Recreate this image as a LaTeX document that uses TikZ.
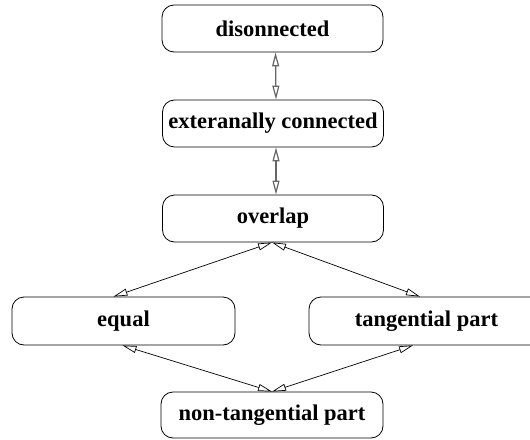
\documentclass[tikz,border=0pt]{standalone}
\usepackage{fontspec}
\setmainfont{Liberation Serif}
\usetikzlibrary{arrows.meta}
\begin{document}
\begin{tikzpicture}[x=1pt,y=-1pt,
  state/.style={draw, rounded corners=12pt, minimum width=221pt, minimum height=47pt,
    inner sep=0pt, font=\fontsize{22.5}{24}\selectfont\bfseries, line width=0.8pt},
  rel/.style={{Triangle[open,length=14pt,width=7pt]}-{Triangle[open,length=14pt,width=7pt]}, line width=0.7pt},
  vrel/.style={rel, draw=black!60, line width=1.2pt}]
\clip (0,0) rectangle (530,439);
\node[state] (dis) at (272.5,28.5) {disonnected};
\node[state] (ext) at (273,123.5) {exteranally connected};
\node[state] (ovl) at (273,218.5) {overlap};
\node[state, minimum width=223pt, minimum height=48pt] (eq) at (123.5,321) {equal};
\node[state, minimum width=235pt, minimum height=48pt] (tpp) at (426.5,321) {tangential part};
\node[state, minimum width=222pt, minimum height=46pt] (ntpp) at (272,415) {non-tangential part};
\draw[vrel] ([xshift=3pt]dis.south) -- ([xshift=3pt]ext.north);
\draw[vrel] ([xshift=3pt]ext.south) -- ([xshift=3pt]ovl.north);
\draw[rel] ([xshift=-1pt]ovl.south) -- ([xshift=-10pt]eq.north);
\draw[rel] ([xshift=-1pt]ovl.south) -- ([xshift=-6.5pt]tpp.north);
\draw[rel] ([xshift=-1pt]eq.south) -- (ntpp.north);
\draw[rel] ([xshift=-13.5pt]tpp.south) -- (ntpp.north);
\end{tikzpicture}
\end{document}
